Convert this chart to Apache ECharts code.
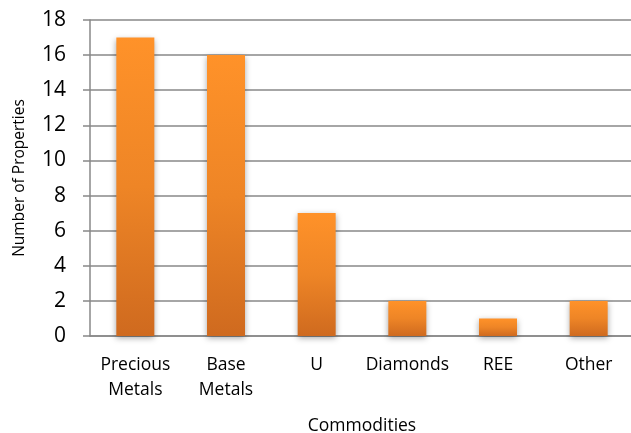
<!DOCTYPE html>
<html>
<head>
<meta charset="utf-8">
<script src="https://cdn.jsdelivr.net/npm/echarts@6/dist/echarts.min.js"></script>
<style>
  html, body { margin: 0; padding: 0; background: #fff; }
  #chart { width: 631px; height: 433px; }
</style>
</head>
<body>
<div id="chart"></div>
<script>
// Number of properties per commodity group
const categories = ['Precious\nMetals', 'Base\nMetals', 'U', 'Diamonds', 'REE', 'Other'];
const properties = [17, 16, 7, 2, 1, 2];
const yTicks = [0, 2, 4, 6, 8, 10, 12, 14, 16, 18];

const font = '"Open Sans", "Liberation Sans", sans-serif';
const chart = echarts.init(document.getElementById('chart'));

chart.setOption({
  animation: false,
  grid: { left: 90, top: 20, width: 544, height: 316, containLabel: false, outerBoundsMode: 'none' },
  xAxis: {
    type: 'category',
    data: categories,
    name: 'Commodities',
    nameLocation: 'middle',
    nameGap: 81,
    nameTextStyle: { fontFamily: font, fontSize: 17.5, color: '#000' },
    axisLine: { lineStyle: { color: '#888', width: 1.5 } },
    axisTick: { alignWithLabel: false, length: 7, lineStyle: { color: '#888', width: 1.5 } },
    axisLabel: { fontFamily: font, fontSize: 17.5, color: '#000', margin: 17, lineHeight: 25, interval: 0 }
  },
  yAxis: {
    type: 'value',
    min: yTicks[0],
    max: yTicks[yTicks.length - 1],
    interval: 2,
    name: 'Number of Properties',
    nameLocation: 'middle',
    nameGap: 62,
    nameTextStyle: { fontFamily: font, fontSize: 15.5, color: '#000' },
    axisLine: { show: true, lineStyle: { color: '#888', width: 1.5 } },
    axisTick: { show: true, length: 7, lineStyle: { color: '#888', width: 1.5 } },
    axisLabel: { fontFamily: font, fontSize: 21, color: '#000', margin: 24 },
    splitLine: { lineStyle: { color: '#888', width: 1.5 } }
  },
  series: [{
    type: 'bar',
    data: properties,
    barWidth: 38,
    itemStyle: {
      color: new echarts.graphic.LinearGradient(0, 0, 0, 1, [
        { offset: 0, color: '#ff9229' },
        { offset: 0.5, color: '#ee8526' },
        { offset: 1, color: '#cf6a1f' }
      ]),
      shadowColor: 'rgba(0,0,0,0.35)',
      shadowBlur: 6,
      shadowOffsetX: 0,
      shadowOffsetY: 2
    }
  }]
});
</script>
</body>
</html>
